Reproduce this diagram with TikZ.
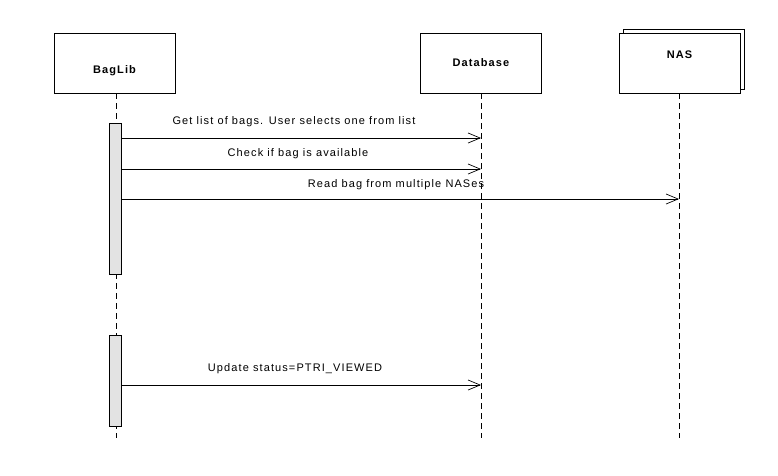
\documentclass[tikz,border=0pt]{standalone}
\usepackage{fontspec}
\setmainfont{Liberation Sans}
\newfontfamily\diagfont[LetterSpace=10]{Liberation Sans}
\usetikzlibrary{arrows.meta}
\begin{document}
\begin{tikzpicture}[x=1pt,y=-1pt,
  obj/.style={draw=black,fill=white,line width=0.8pt,minimum width=121pt,minimum height=60pt,inner sep=0pt},
  life/.style={draw=black,line width=0.7pt,dash pattern=on 6pt off 4pt},
  act/.style={draw=black,fill=black!11,line width=0.8pt},
  msg/.style={draw=black,line width=0.8pt,-{Straight Barb[length=12pt,width=10pt,line width=0.7pt]}},
  lbl/.style={font=\diagfont\fontsize{11}{12}\selectfont,inner sep=0pt},
  ttl/.style={font=\diagfont\fontsize{11}{12}\selectfont\bfseries,inner sep=0pt}]
\useasboundingbox (0,0) rectangle (778,475);
\fill[white] (0,0) rectangle (778,475);
% lifelines
\coordinate (bl) at (116,93); \coordinate (ble) at (116,438);
\coordinate (dl) at (481,93); \coordinate (dle) at (481,438);
\coordinate (nl) at (679,93); \coordinate (nle) at (679,438);
\draw[life] (bl) -- (ble);
\draw[life] (dl) -- (dle);
\draw[life] (nl) -- (nle);
% objects
\node[obj] (baglib) at (114.5,63) {};
\node[ttl] (baglibT) at (114.5,71) {BagLib};
\node[obj] (db) at (481,63) {};
\node[ttl] (dbT) at (481,63) {Database};
\node[obj] (nasback) at (683.5,59) {};
\node[obj] (nas) at (679.5,63) {};
\node[ttl] (nasT) at (679.5,55) {NAS};
% activations
\draw[act] (109,123) rectangle (121,274);
\draw[act] (109,335) rectangle (121,426);
% messages
\coordinate (a1s) at (121,138); \coordinate (a1e) at (481,138);
\coordinate (a2s) at (121,169); \coordinate (a2e) at (481,169);
\coordinate (a3s) at (121,199); \coordinate (a3e) at (679,199);
\coordinate (a4s) at (121,385); \coordinate (a4e) at (481,385);
\draw[msg] (a1s) -- (a1e);
\draw[msg] (a2s) -- (a2e);
\draw[msg] (a3s) -- (a3e);
\draw[msg] (a4s) -- (a4e);
\node[lbl] (m1) at (294,122) {Get list of bags. User selects one from list};
\node[lbl] (m2) at (298,154) {Check if bag is available};
\node[lbl] (m3) at (396,185) {Read bag from multiple NASes};
\node[lbl] (m4) at (295,369) {Update status=PTRI\_VIEWED};
\end{tikzpicture}
\end{document}
